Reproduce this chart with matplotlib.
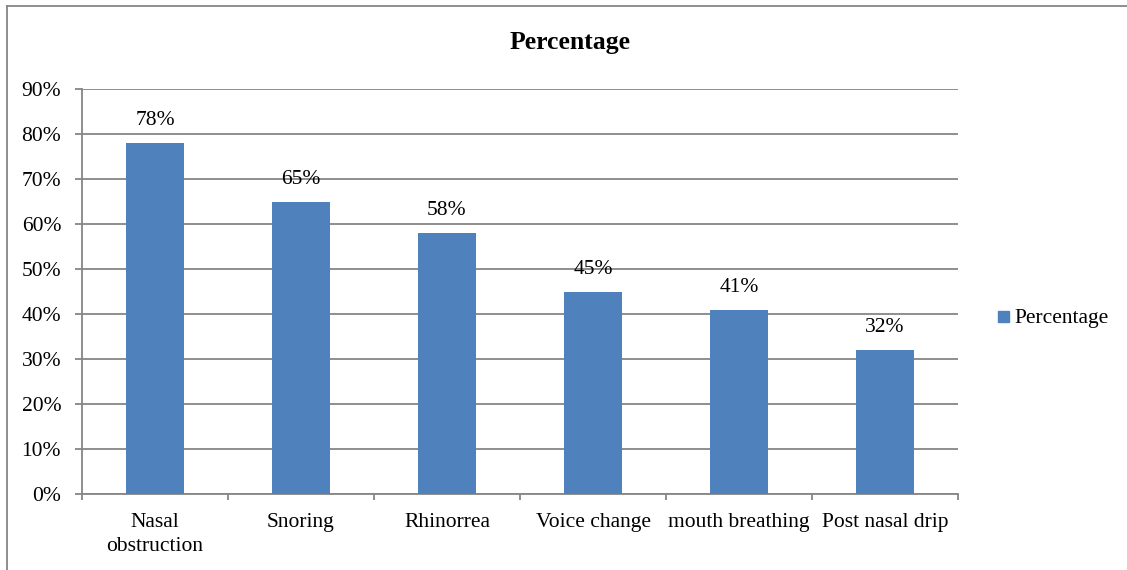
import matplotlib.pyplot as plt
from matplotlib.patches import Rectangle

categories = ["Nasal\nobstruction", "Snoring", "Rhinorrea", "Voice change",
              "mouth breathing", "Post nasal drip"]
values = [78, 65, 58, 45, 41, 32]
yticks = [0, 10, 20, 30, 40, 50, 60, 70, 80, 90]

BAR = "#4f81bd"
GRID = "#868686"
FS = 15.5

plt.rcParams["font.family"] = ["Liberation Serif", "DejaVu Serif"]

fig = plt.figure(figsize=(11.27, 5.70), dpi=100)
W, H = 1127, 570

# outer chart frame (only left and top edges fall inside the image)
fig.add_artist(plt.Line2D([7 / W, 7 / W], [0, 1 - 6 / H], transform=fig.transFigure,
                          color=GRID, lw=1.3))
fig.add_artist(plt.Line2D([7 / W, 1], [1 - 6 / H, 1 - 6 / H], transform=fig.transFigure,
                          color=GRID, lw=1.3))

left, right, top, bottom = 82, 958, 89, 494
ax = fig.add_axes([left / W, 1 - bottom / H, (right - left) / W, (bottom - top) / H])

x = range(len(categories))
ax.bar(x, values, width=0.4, color=BAR, zorder=3, label="Percentage")
for xi, v in zip(x, values):
    ax.text(xi, v + 4.9, f"{v}%", ha="center", va="center", fontsize=FS)

ax.set_xlim(-0.5, len(categories) - 0.5)
ax.set_ylim(0, 90)
ax.set_yticks(yticks)
ax.set_yticklabels([f"{t}%" for t in yticks], fontsize=FS)
ax.yaxis.grid(True, color=GRID, lw=1.3, zorder=0)
ax.tick_params(axis="y", length=5, width=1.3, color=GRID, pad=10)

# category labels centred, tick marks between categories
ax.set_xticks([i - 0.5 for i in range(len(categories) + 1)])
ax.set_xticklabels([])
ax.set_xticks(list(x), minor=True)
ax.set_xticklabels(categories, minor=True, fontsize=FS, linespacing=1.38)
ax.tick_params(axis="x", which="major", length=4, width=1.3, color=GRID)
ax.tick_params(axis="x", which="minor", length=0, pad=13.5)

for side in ["top", "right"]:
    ax.spines[side].set_visible(False)
for side in ["left", "bottom"]:
    ax.spines[side].set_color(GRID)
    ax.spines[side].set_linewidth(1.3)

fig.text(570 / W, 1 - 42 / H, "Percentage", ha="center", va="center",
         fontsize=18.5, fontweight="bold")

# legend entry
fig.add_artist(Rectangle((998 / W, 1 - 322 / H), 11 / W, 11 / H,
                         transform=fig.transFigure, color=BAR))
fig.text(1014 / W, 1 - 319 / H, "Percentage", ha="left", va="center", fontsize=FS)

fig.savefig("out.png", dpi=100)
